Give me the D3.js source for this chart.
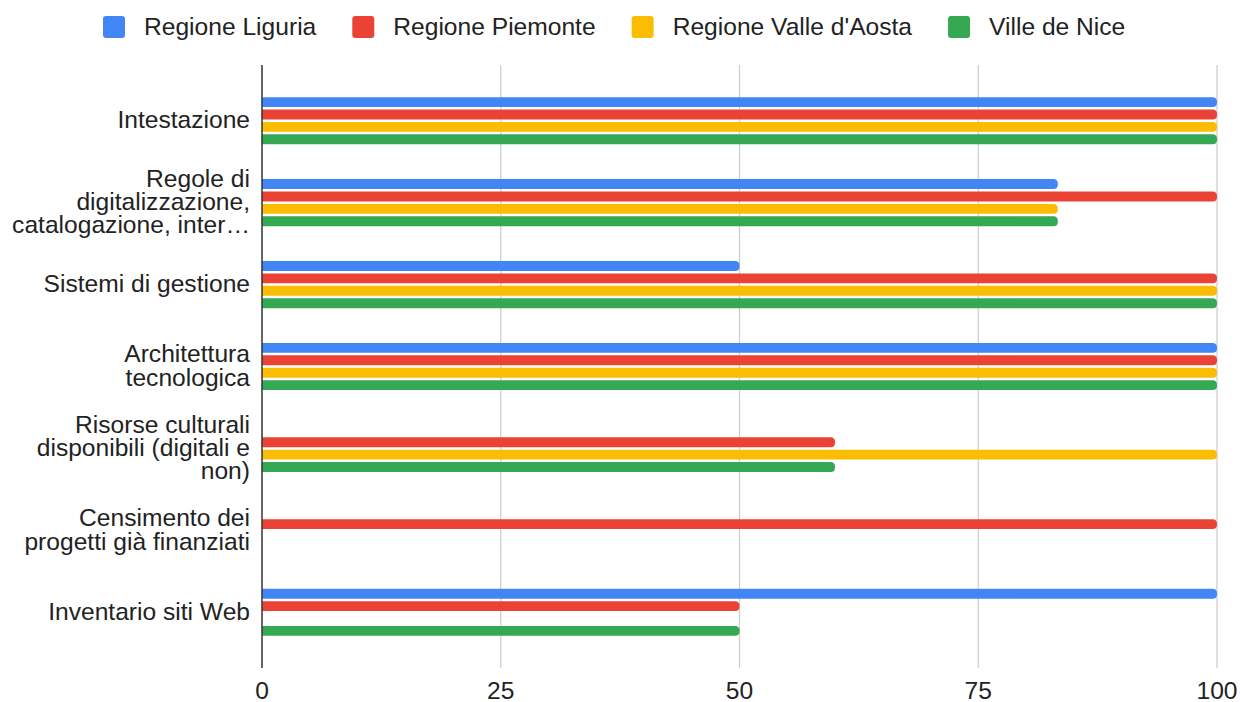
<!DOCTYPE html>
<html>
<head>
<meta charset="utf-8">
<script src="https://cdn.jsdelivr.net/npm/d3@7/dist/d3.min.js"></script>
<style>
  html, body { margin: 0; padding: 0; background: #fff; }
  text { font-family: "Liberation Sans", Arial, Helvetica, sans-serif; }
</style>
</head>
<body>
<svg id="chart" width="1240" height="702"></svg>
<script>
const categories = [
  "Intestazione",
  "Regole di digitalizzazione, catalogazione, inter…",
  "Sistemi di gestione",
  "Architettura tecnologica",
  "Risorse culturali disponibili (digitali e non)",
  "Censimento dei progetti già finanziati",
  "Inventario siti Web"
];
const categoryLines = [
  ["Intestazione"],
  ["Regole di", "digitalizzazione,", "catalogazione, inter…"],
  ["Sistemi di gestione"],
  ["Architettura", "tecnologica"],
  ["Risorse culturali", "disponibili (digitali e", "non)"],
  ["Censimento dei", "progetti già finanziati"],
  ["Inventario siti Web"]
];
const seriesNames = ["Regione Liguria", "Regione Piemonte", "Regione Valle d'Aosta", "Ville de Nice"];
const seriesColors = ["#4285F4", "#EA4335", "#FBBC04", "#34A853"];
const liguria  = [100, 83.33, 50, 100, 0, 0, 100];
const piemonte = [100, 100, 100, 100, 60, 100, 50];
const valle    = [100, 83.33, 100, 100, 100, 0, 0];
const nice     = [100, 83.33, 100, 100, 60, 0, 50];
const seriesValues = [liguria, piemonte, valle, nice];
const xTicks = [0, 25, 50, 75, 100];

(function () {
const svg = d3.select("#chart");
const pLeft = 262, pRight = 1217, pTop = 65, pBottom = 668;
const fs = 24.6;

const x = d3.scaleLinear().domain([0, 100]).range([pLeft, pRight]);
const y = d3.scaleBand().domain(categories).range([pTop, pBottom]).paddingOuter(0.18).paddingInner(0);
const inner = d3.scaleBand().domain(seriesNames).range([-24.8, 24.8]).paddingInner(0.2).paddingOuter(0.1);

// gridlines
svg.append("g").selectAll("line").data(xTicks.filter(d => d !== 0)).join("line")
  .attr("x1", d => x(d)).attr("x2", d => x(d))
  .attr("y1", pTop).attr("y2", pBottom)
  .attr("stroke", "#cccccc").attr("stroke-width", 1.2);

// bars
function barPath(x0, x1, yTop, h, r) {
  r = Math.min(r, (x1 - x0), h / 2);
  return `M${x0},${yTop}H${x1 - r}Q${x1},${yTop} ${x1},${yTop + r}V${yTop + h - r}Q${x1},${yTop + h} ${x1 - r},${yTop + h}H${x0}Z`;
}
const barData = [];
categories.forEach((c, ci) => {
  seriesNames.forEach((s, si) => {
    const v = seriesValues[si][ci];
    if (v > 0) barData.push({ c, s, si, v });
  });
});
svg.append("g").selectAll("path").data(barData).join("path")
  .attr("d", d => {
    const cy = y(d.c) + y.bandwidth() / 2;
    const yt = cy + inner(d.s);
    return barPath(x(0), x(d.v), yt, inner.bandwidth(), 4.5);
  })
  .attr("fill", d => seriesColors[d.si]);

// axis line at 0
svg.append("line")
  .attr("x1", x(0)).attr("x2", x(0)).attr("y1", pTop).attr("y2", pBottom)
  .attr("stroke", "#333").attr("stroke-width", 1.5);

// x tick labels
svg.append("g").selectAll("text").data(xTicks).join("text")
  .attr("x", d => x(d)).attr("y", 699)
  .attr("text-anchor", "middle")
  .attr("font-size", fs).attr("fill", "#222")
  .text(d => d);

// y labels
const lineH = 23.3;
const yl = svg.append("g");
categories.forEach((c, ci) => {
  const lines = categoryLines[ci];
  const cy = y(c) + y.bandwidth() / 2;
  const first = cy + 7.5 - (lines.length - 1) * lineH / 2;
  const t = yl.append("text").attr("text-anchor", "end").attr("font-size", fs).attr("fill", "#222");
  lines.forEach((ln, li) => {
    t.append("tspan").attr("x", 250).attr("y", first + li * lineH).text(ln);
  });
});

// legend
const legend = svg.append("g");
let lx = 103;
seriesNames.forEach((s, i) => {
  const g = legend.append("g");
  g.append("rect").attr("x", lx).attr("y", 16).attr("width", 22).attr("height", 22)
    .attr("rx", 3).attr("fill", seriesColors[i]);
  const t = g.append("text").attr("x", lx + 41).attr("y", 34.5)
    .attr("font-size", fs).attr("fill", "#222").text(s);
  const w = t.node().getComputedTextLength();
  lx += 41 + w + 36;
});
})();
</script>
</body>
</html>
